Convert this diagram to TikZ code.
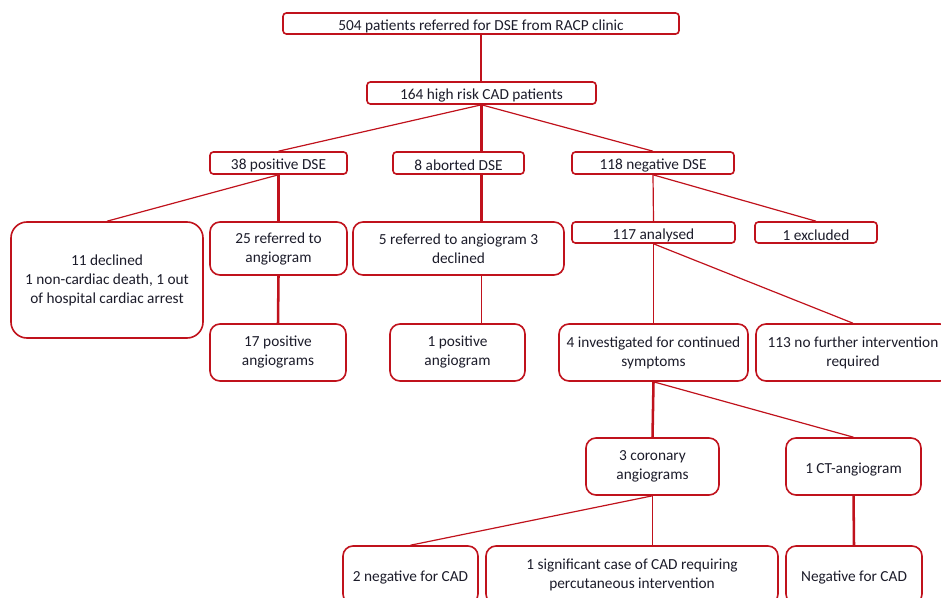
\documentclass[tikz,border=0pt]{standalone}
\usepackage{fontspec}
\setmainfont{Carlito}
\definecolor{flowred}{RGB}{192,18,28}
\definecolor{flowtext}{RGB}{28,28,42}

\begin{document}
\begin{tikzpicture}[x=0.75pt, y=-0.75pt,
    box/.style={draw=flowred, line width=1.2pt, fill=white, align=center, inner sep=0pt,
        text=flowtext, font=\fontsize{11.5pt}{14.25pt}\selectfont,
        execute at begin node={\rule{0pt}{12pt}}},
    flat/.style={box, rounded corners=2.5pt},
    tall/.style={box, rounded corners=7.5pt},
    wh/.style 2 args={minimum width=#1*0.75pt, minimum height=#2*0.75pt},
    thinlink/.style={draw=flowred, line width=0.9pt},
    thicklink/.style={draw=flowred, line width=1.9pt}]
    \useasboundingbox (0,0) rectangle (941,598);
    \clip (0,0) rectangle (941,598);

    % Place the top of the chart
    \node[flat, wh={396}{21}] (referred) at (481,23.5) {504 patients referred for DSE from RACP clinic};
    \node[flat, wh={229}{22}] (highrisk) at (481.5,93) {164 high risk CAD patients};

    % Place the three DSE outcomes
    \node[flat, wh={137}{22}] (posdse) at (278.5,163) {38 positive DSE};
    \node[flat, wh={131}{22}] (abdse) at (458.5,163) {8 aborted DSE};
    \node[flat, wh={162}{22}] (negdse) at (653,163) {118 negative DSE};

    % Place the second row
    \node[box, rounded corners=12pt, wh={192}{116}] (declined) at (107,280) {11 declined\\1 non-cardiac death, 1 out\\of hospital cardiac arrest};
    \node[tall, wh={137}{53}] (refpos) at (278.5,248.5) {25 referred to\\angiogram};
    \node[tall, wh={211}{53}] (refab) at (458.5,248.5) {5 referred to angiogram 3\\declined};
    \node[flat, wh={163}{21}] (analysed) at (653.5,232.5) {117 analysed};
    \node[flat, wh={122}{21}] (excluded) at (816,232.5) {1 excluded};

    % Place the third row
    \node[tall, wh={136}{57}] (posangio) at (278,352.5) {17 positive\\angiograms};
    \node[tall, wh={135}{57}] (oneangio) at (457.5,352.5) {1 positive\\angiogram};
    \node[tall, wh={189}{57}] (symptoms) at (653.5,352.5) {4 investigated for continued\\symptoms};
    \node[tall, wh={194}{57}] (nofurther) at (853,352.5) {113 no further intervention\\required};

    % Place the follow-up tests and their results
    \node[tall, wh={133}{57}] (coronary) at (652.5,466.5) {3 coronary\\angiograms};
    \node[tall, wh={135}{57}] (ctangio) at (853.5,466.5) {1 CT-angiogram};
    \node[tall, wh={135}{58}] (negcad) at (410.5,575) {2 negative for CAD};
    \node[tall, wh={292}{58}] (pci) at (632,575) {1 significant case of CAD requiring\\percutaneous intervention};
    \node[tall, wh={136}{58}] (ctneg) at (854,575) {Negative for CAD};

    % Draw the connectors
    \draw[thinlink] (referred.south) -- (referred.south |- highrisk.north);
    \draw[thinlink] (highrisk.south) -- (posdse.north);
    \draw[thicklink] (highrisk.south) -- (highrisk.south |- abdse.north);
    \draw[thinlink] (highrisk.south) -- (negdse.north);
    \draw[thinlink] (posdse.south) -- (declined.north);
    \draw[thicklink] (posdse.south) -- (refpos.north);
    \draw[thicklink] (refpos.south) -- (posangio.north);
    \draw[thicklink] (abdse.south -| highrisk.south) -- (refab.north -| highrisk.south);
    \draw[thinlink] (refab.south -| highrisk.south) -- (oneangio.north -| highrisk.south);
    \draw[thinlink] (negdse.south) -- (analysed.north);
    \draw[thinlink] (negdse.south) -- (excluded.north);
    \draw[thinlink] (analysed.south) -- (symptoms.north);
    \draw[thinlink] (analysed.south) -- (nofurther.north);
    \draw[thicklink] (symptoms.south) -- (coronary.north);
    \draw[thinlink] (symptoms.south) -- (ctangio.north);
    \draw[thinlink] (coronary.south) -- (negcad.north);
    \draw[thinlink] (coronary.south) -- (coronary.south |- pci.north);
    \draw[thicklink] (ctangio.south) -- (ctneg.north);
\end{tikzpicture}
\end{document}
